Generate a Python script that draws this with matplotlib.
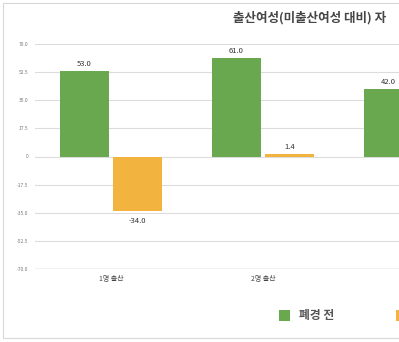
import numpy as np
import matplotlib
matplotlib.use("Agg")
import matplotlib.pyplot as plt
from matplotlib.patches import Rectangle, Patch

plt.rcParams['font.family'] = ['Noto Sans CJK KR', 'DejaVu Sans']

categories = ["1명 출산", "2명 출산", "3명 출산"]
pre_menopause = [53.0, 61.0, 42.0]
post_menopause = [-34.0, 1.4, np.nan]
series_names = ["폐경 전", "폐경 후"]
yticks = [70.0, 52.5, 35.0, 17.5, 0, -17.5, -35.0, -52.5, -70.0]
ytick_labels = ["70.0", "52.5", "35.0", "17.5", "0", "-17.5", "-35.0", "-52.5", "-70.0"]
title = "출산여성(미출산여성 대비) 자"

green = "#6AA84F"
orange = "#F3B43F"

W, H = 399, 342
fig = plt.figure(figsize=(W / 100, H / 100), dpi=100)
fig.patch.set_facecolor("white")

# light frame around the chart area
fig.add_artist(Rectangle((3 / W, 1 - 338 / H), 1.2, (338 - 3) / H,
                         transform=fig.transFigure, fill=False,
                         edgecolor="#d8d8d8", linewidth=0.8))

ax = fig.add_axes([35 / W, 1 - 269 / H, 456 / W, (269 - 44) / H])
x = np.arange(len(categories))
bw = 0.32
off = 0.175
b1 = ax.bar(x - off, pre_menopause, bw, color=green, zorder=3)
b2 = ax.bar(x + off, post_menopause, bw, color=orange, zorder=3)

ax.set_xlim(-0.5, len(categories) - 0.5)
ax.set_ylim(-70, 70)
ax.set_yticks(yticks)
ax.set_yticklabels(ytick_labels, fontsize=3.5, color="#777777")
ax.tick_params(axis="y", length=0, pad=5)
ax.set_xticks(x)
ax.set_xticklabels(categories, fontsize=5, color="#444444")
ax.tick_params(axis="x", length=0, pad=4)
for s in ax.spines.values():
    s.set_visible(False)
for v in yticks:
    ax.axhline(v, color="#dcdcdc", lw=0.8, zorder=1)
ax.axhline(-70, color="#a0a0a0", lw=0.9, zorder=2)

for bars, vals in ((b1, pre_menopause), (b2, post_menopause)):
    for rect, v in zip(bars, vals):
        if np.isnan(v):
            continue
        cx = rect.get_x() + rect.get_width() / 2
        if v >= 0:
            ax.annotate(f"{v:.1f}", (cx, v), xytext=(0, 2.5), textcoords="offset points",
                        ha="center", va="bottom", fontsize=5.5, color="#333333")
        else:
            ax.annotate(f"{v:.1f}", (cx, v), xytext=(0, -4), textcoords="offset points",
                        ha="center", va="top", fontsize=5.5, color="#333333")

fig.text(233 / W, 1 - 18 / H, title, fontsize=9, fontweight="bold",
         color="#454545", ha="left", va="center")

handles = [Patch(facecolor=green), Patch(facecolor=orange)]
fig.legend(handles, series_names, loc="center left",
           bbox_to_anchor=(268 / W, 1 - 316 / H), ncol=2, frameon=False,
           handlelength=0.95, handleheight=0.95, handletextpad=0.8,
           columnspacing=5.2, labelcolor="#555555",
           prop={'weight': 'bold', 'size': 8.5})

fig.savefig("out.png", dpi=100)
